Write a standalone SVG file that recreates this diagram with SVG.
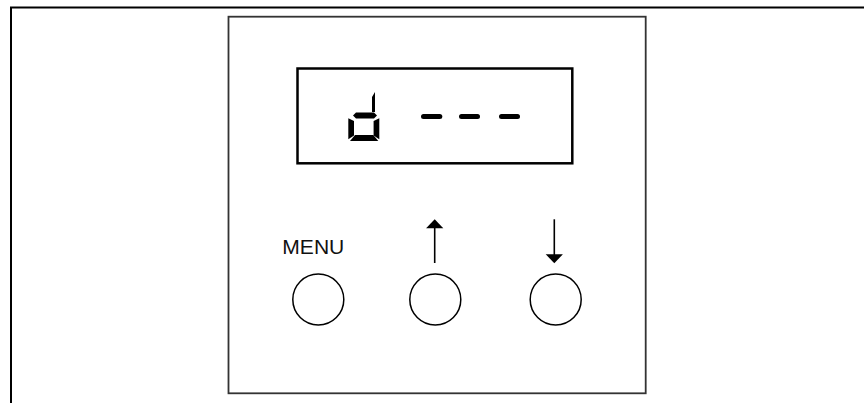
<svg xmlns="http://www.w3.org/2000/svg" width="864" height="403" viewBox="0 0 864 403">
  <style>
    .frame { fill: none; stroke: #000; stroke-width: 2; }
    .panel { fill: #fff; stroke: #333; stroke-width: 1.8; }
    .lcd { fill: #fff; stroke: #000; stroke-width: 2.5; }
    .seg { fill: #000; stroke: none; }
    .dash { stroke: #000; stroke-width: 5; stroke-linecap: round; }
    .btn { fill: #fff; stroke: #000; stroke-width: 1.5; }
    .shaft { stroke: #000; stroke-width: 1.6; }
    .head { fill: #000; }
    .label { font-family: "Liberation Sans", Arial, sans-serif; font-size: 20.5px; fill: #111; }
  </style>
  <rect x="0" y="0" width="864" height="403" fill="#fff"/>
  <g id="outer-frame">
    <path class="frame" d="M11,403 V7.5 H864"/>
  </g>
  <g id="panel">
    <rect class="panel" x="228.5" y="16.7" width="417.2" height="376.6"/>
  </g>
  <g id="display">
    <rect class="lcd" x="297.5" y="68.5" width="274.8" height="94.8"/>
    <g id="digit-d">
      <polygon class="seg" points="372,97 375,92 375,112 372,112"/>
      <polygon class="seg" points="353,115.5 356,112.5 374,112.5 377,115.5 374,118.5 356,118.5"/>
      <polygon class="seg" points="348.3,118.3 354,121 354,135.5 348.3,139.3"/>
      <polygon class="seg" points="379.3,118.3 373.6,121 373.6,135.5 379.3,139.3"/>
      <polygon class="seg" points="355,135 373.3,135 378.3,141 350,141"/>
    </g>
    <g id="dashes">
      <line class="dash" x1="423.5" y1="116.5" x2="439.8" y2="116.5"/>
      <line class="dash" x1="461.5" y1="116.5" x2="477.5" y2="116.5"/>
      <line class="dash" x1="501.5" y1="116.5" x2="517.5" y2="116.5"/>
    </g>
  </g>
  <g id="menu-button">
    <text class="label" x="282.3" y="253.5" textLength="62" lengthAdjust="spacingAndGlyphs">MENU</text>
    <circle class="btn" cx="318.3" cy="299.5" r="25.5"/>
  </g>
  <g id="up-button">
    <circle class="btn" cx="435.3" cy="299.5" r="25.5"/>
  </g>
  <g id="down-button">
    <circle class="btn" cx="555.7" cy="299.5" r="25.5"/>
  </g>
  <g id="connectors">
    <g id="up-arrow">
      <line class="shaft" x1="434.7" y1="227" x2="434.7" y2="263"/>
      <polygon class="head" points="434.7,219.3 443.3,228.3 426.1,228.3"/>
    </g>
    <g id="down-arrow">
      <line class="shaft" x1="554.3" y1="219.3" x2="554.3" y2="255"/>
      <polygon class="head" points="554.3,263.3 562.9,254.3 545.7,254.3"/>
    </g>
  </g>
</svg>
